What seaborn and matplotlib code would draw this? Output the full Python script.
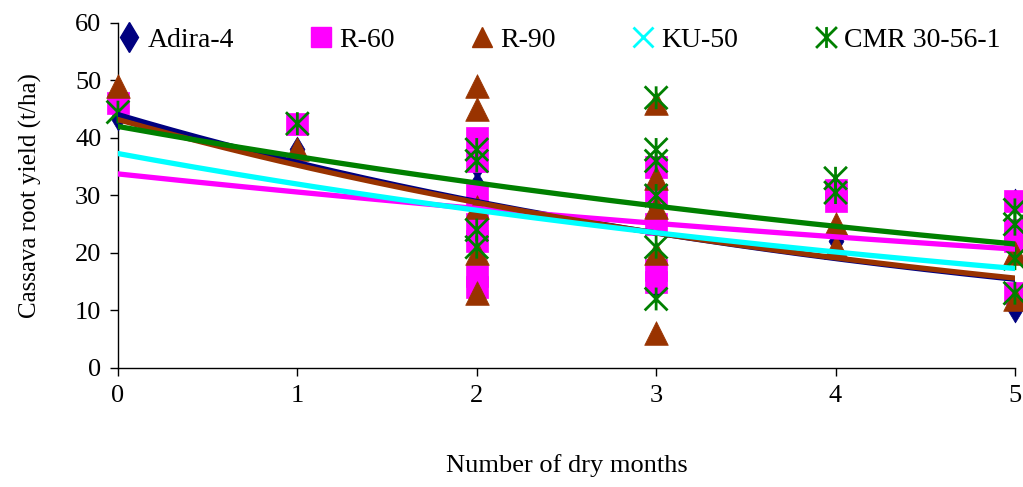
import numpy as np
import pandas as pd
import matplotlib
matplotlib.use("Agg")
import matplotlib.pyplot as plt
import seaborn as sns
from matplotlib.path import Path
from matplotlib.lines import Line2D

# Yield observations (t/ha) per variety, by number of dry months
adira_x = [0, 1, 2, 2, 2, 2, 3, 3, 3, 4, 5, 5, 5]
adira_y = [43.5, 38, 35, 32, 25, 24, 30, 28, 14, 22, 29, 10, 12]

r60_x = [0, 1, 2, 2, 2, 2, 2, 2, 2, 3, 3, 3, 3, 3, 4, 4, 5, 5, 5, 5]
r60_y = [46, 42.5, 40, 36, 30, 25, 22, 16, 14, 35, 30, 25, 17, 15, 31, 29, 29, 24, 22, 13]

r90_x = [0, 1, 2, 2, 2, 2, 2, 3, 3, 3, 3, 3, 4, 4, 5, 5]
r90_y = [49, 38, 49, 45, 28, 20, 13, 46, 33, 28, 20, 6, 25, 21, 12, 20]

ku50_x = [0, 1, 2, 2, 2, 2, 2, 3, 3, 3, 3, 4, 4, 5, 5, 5, 5]
ku50_y = [35.5, 42.5, 41, 32, 27, 20, 14, 35, 31, 18, 16, 28, 22, 21, 19, 15, 12]

cmr_x = [0, 1, 2, 2, 2, 2, 3, 3, 3, 3, 3, 3, 4, 4, 5, 5, 5, 5]
cmr_y = [44.5, 42.5, 38, 36, 24, 21, 47, 38, 36, 30, 21, 12, 33, 30.5, 27.5, 25, 19, 13]

varieties = ["Adira-4", "R-60", "R-90", "KU-50", "CMR 30-56-1"]
colors = ["#000080", "#FF00FF", "#993300", "#00FFFF", "#008000"]

frames = []
for name, xs, ys in zip(varieties,
                        [adira_x, r60_x, r90_x, ku50_x, cmr_x],
                        [adira_y, r60_y, r90_y, ku50_y, cmr_y]):
    frames.append(pd.DataFrame({"variety": name, "dry_months": xs, "yield": ys}))
df = pd.concat(frames, ignore_index=True)

# Excel-style star marker: X plus vertical bar
star = Path([(0, -1), (0, 1), (-1, -1), (1, 1), (-1, 1), (1, -1)],
            [Path.MOVETO, Path.LINETO] * 3)
markers = ["d", "s", "^", "x", star]
sizes = [160, 270, 290, 270, 270]

sns.set_style("white")
plt.rcParams["font.family"] = ["Liberation Serif", "DejaVu Serif"]
plt.rcParams["text.color"] = "black"
plt.rcParams["axes.labelcolor"] = "black"

fig = plt.figure(figsize=(10.23, 4.87), dpi=100)
ax = fig.add_axes([0.1153, 0.2444, 0.8768, 0.7084])

for name, col, mk, sz in zip(varieties, colors, markers, sizes):
    sub = df[df["variety"] == name]
    if mk == "x" or isinstance(mk, Path):
        sns.scatterplot(data=sub, x="dry_months", y="yield", ax=ax, marker=mk,
                        s=sz, color=col, facecolor="none", edgecolor=col,
                        linewidth=2.0, clip_on=False, zorder=3, legend=False)
    else:
        sns.scatterplot(data=sub, x="dry_months", y="yield", ax=ax, marker=mk,
                        s=sz, color=col, edgecolor=col, linewidth=0.5,
                        clip_on=False, zorder=3, legend=False)

# Exponential trendlines fitted to each variety
grid = np.linspace(0, 5, 200)
for name, col in zip(varieties, colors):
    sub = df[df["variety"] == name]
    b, lna = np.polyfit(sub["dry_months"], np.log(sub["yield"]), 1)
    sns.lineplot(x=grid, y=np.exp(lna + b * grid), ax=ax, color=col,
                 linewidth=3.8, zorder=4)

ax.set_xlim(0, 5)
ax.set_ylim(0, 60)
ax.set_xticks(range(0, 6))
ax.set_yticks(range(0, 61, 10))
for side in ["top", "right"]:
    ax.spines[side].set_visible(False)
for side in ["left", "bottom"]:
    ax.spines[side].set_color("black")
    ax.spines[side].set_linewidth(1.0)
ax.tick_params(axis="both", direction="out", length=6, width=1,
               labelsize=19, pad=6, colors="black", left=True, bottom=True)
ax.set_xlabel("Number of dry months", fontsize=19, labelpad=34)
ax.set_ylabel("Cassava root yield (t/ha)", fontsize=18, labelpad=24)

handles = []
for col, mk in zip(colors, markers):
    if mk == "x" or isinstance(mk, Path):
        handles.append(Line2D([], [], linestyle="none", marker=mk, markersize=15,
                              markeredgecolor=col, markerfacecolor="none",
                              markeredgewidth=2.0))
    else:
        handles.append(Line2D([], [], linestyle="none", marker=mk, markersize=15,
                              markeredgecolor=col, markerfacecolor=col))
ax.legend(handles, varieties, loc="upper left", bbox_to_anchor=(-0.012, 1.02),
          ncol=5, frameon=False, fontsize=20, handlelength=0.8,
          handletextpad=0.25, columnspacing=2.75, borderaxespad=0)

fig.savefig("out.png", dpi=100)
